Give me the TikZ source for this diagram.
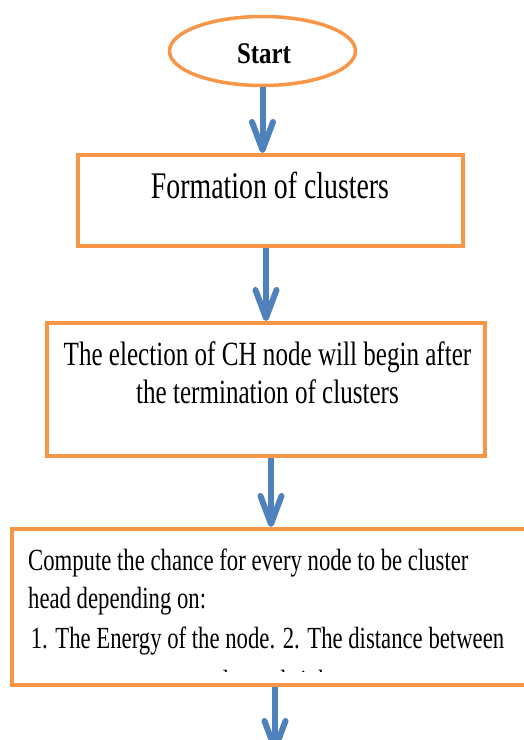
\documentclass[tikz,border=0pt]{standalone}
\usepackage{fontspec}
\setmainfont[FakeStretch=0.74]{Liberation Serif}
\newfontfamily\startfont[FakeStretch=0.83]{Liberation Serif}
\usetikzlibrary{arrows.meta,shapes.geometric}
\definecolor{boxorange}{RGB}{247,150,70}
\definecolor{flowblue}{RGB}{79,129,189}

\begin{document}
\begin{tikzpicture}[x=1pt,y=-1pt,
  box/.style={draw=boxorange, line width=4pt, rectangle, inner sep=0pt},
  txt/.style={inner sep=0pt, anchor=base, text=black},
  flow/.style={draw=flowblue, line width=6pt,
    -{Straight Barb[length=28pt,width=21pt,round]}}]
\useasboundingbox (0,0) rectangle (523,740);

% terminal
\node[ellipse, draw=boxorange, line width=3.5pt, minimum width=186pt,
      minimum height=69pt, inner sep=0pt] (start) at (262.5,51) {};
\node[txt, font=\startfont\bfseries\fontsize{30}{36}\selectfont] (starttext) at (264,63) {Start};

% process boxes
\node[box, minimum width=385pt, minimum height=91pt] (b1) at (270.5,200.5) {};
\node[box, minimum width=438pt, minimum height=133pt] (b2) at (266,389.5) {};
\node[box, minimum width=518pt, minimum height=156pt] (b3) at (271,607) {};

\node[txt, font=\fontsize{37.6}{40}\selectfont] (b1text) at (270,198) {Formation of clusters};

\node[txt, font=\fontsize{33.9}{38}\selectfont] (b2line1) at (267.5,365) {The election of CH node will begin after};
\node[txt, font=\fontsize{33.9}{38}\selectfont] (b2line2) at (267.5,403) {the termination of clusters};

\begin{scope}[font=\fontsize{30.7}{38}\selectfont]
\node[txt, anchor=base west] (b3line1) at (28,570) {Compute the chance for every node to be cluster};
\node[txt, anchor=base west] (b3line2) at (28,608) {head depending on:};
\node[txt] (b3line3) at (267.5,648) {1. The Energy of the node. 2. The distance between};
% the next line is cut off by the frame of the text area
\begin{scope}
\clip (0,600) rectangle (523,671);
\node[txt] (b3line4) at (262,691) {nodes and sink};
\end{scope}
\end{scope}

% connectors
\coordinate (nextstep) at (275,752);
\draw[flow] (start.south) -- (start.south |- b1.north);
\draw[flow] (b1.south -| b2.north) -- (b2.north);
\draw[flow] (b2.south -| b3.north) -- (b3.north);
\draw[flow] (b3.south -| nextstep) -- (nextstep);
\end{tikzpicture}
\end{document}
